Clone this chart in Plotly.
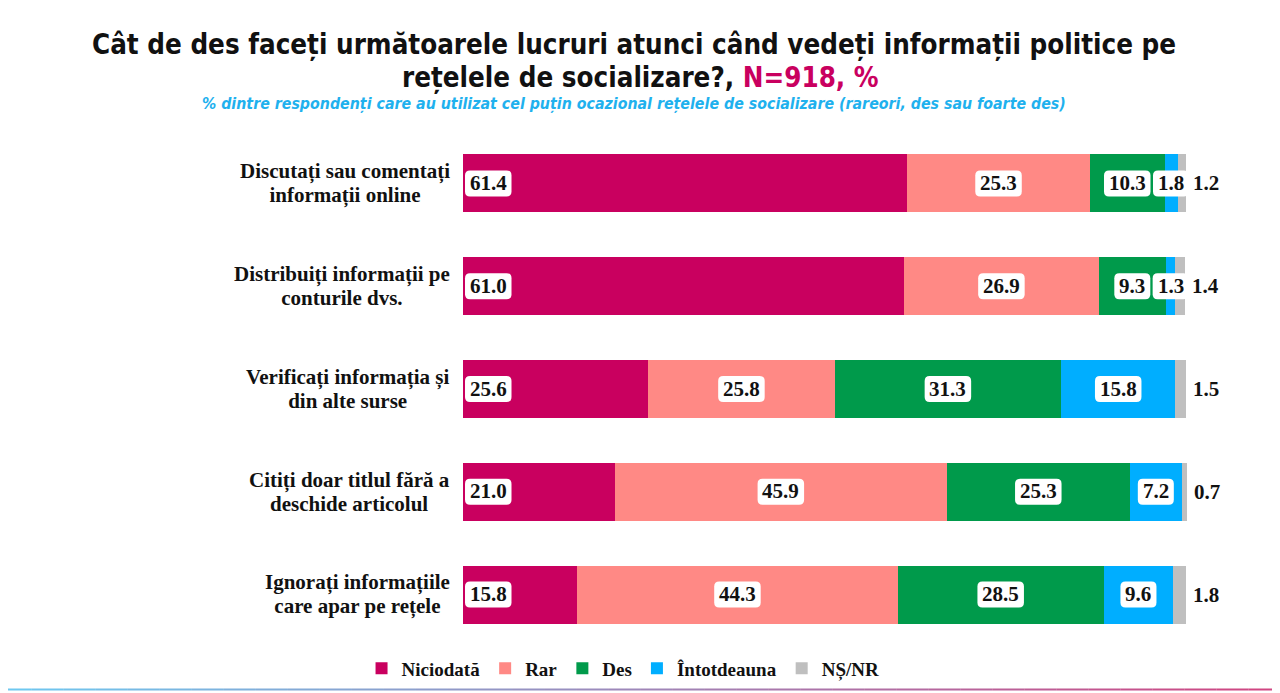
import plotly.graph_objects as go

categories = [
    "Discutați sau comentați<br>informații online",
    "Distribuiți informații pe<br>conturile dvs.",
    "Verificați informația și<br>din alte surse",
    "Citiți doar titlul fără a<br>deschide articolul",
    "Ignorați informațiile<br>care apar pe rețele",
]
series_names = ["Niciodată", "Rar", "Des", "Întotdeauna", "NȘ/NR"]
niciodata = [61.4, 61.0, 25.6, 21.0, 15.8]
rar = [25.3, 26.9, 25.8, 45.9, 44.3]
des = [10.3, 9.3, 31.3, 25.3, 28.5]
intotdeauna = [1.8, 1.3, 15.8, 7.2, 9.6]
nsnr = [1.2, 1.4, 1.5, 0.7, 1.8]
colors = ["#C9005F", "#FF8985", "#009A4B", "#00AEFF", "#BFBFBF"]

title_line1 = "Cât de des faceți următoarele lucruri atunci când vedeți informații politice pe"
title_line2 = "rețelele de socializare?, <span style='color:#C9005F'>N=918, %</span>"
subtitle = "% dintre respondenți care au utilizat cel puțin ocazional rețelele de socializare (rareori, des sau foarte des)"

series = [niciodata, rar, des, intotdeauna, nsnr]
ypos = list(range(len(categories)))

SERIF = "Liberation Serif, DejaVu Serif, serif"
COND = "Liberation Sans Narrow, DejaVu Sans Condensed, Roboto, sans-serif"

# page is offset by the 8px body margin; figure sized to fit the window
W, H = 1272, 685
XMAX = 100.25
PXU = 7.23
PW = PXU * XMAX
ML, MT, MB = 455, 123.5, 46.5
MR = W - ML - PW
PH = H - MT - MB

fig = go.Figure()
for name, vals, col in zip(series_names, series, colors):
    fig.add_trace(go.Bar(
        y=ypos, x=vals, name=name, orientation="h",
        marker=dict(color=col, line=dict(width=0)),
        width=0.563, hoverinfo="skip",
    ))

shapes = []
annotations = []

def box_path(x0, w, h=26, r=5):
    x1 = x0 + w
    y0, y1 = -h / 2, h / 2
    return (f"M {x0+r},{y0} L {x1-r},{y0} Q {x1},{y0} {x1},{y0+r} "
            f"L {x1},{y1-r} Q {x1},{y1} {x1-r},{y1} L {x0+r},{y1} "
            f"Q {x0},{y1} {x0},{y1-r} L {x0},{y0+r} Q {x0},{y0} {x0+r},{y0} Z")

VAL_FONT = dict(family=SERIF, size=21, color="#111111", weight="bold")
# annotation font size sets the line spacing (1.3em); the span sets glyph size
CAT_FONT = dict(family=SERIF, size=18.5, color="#111111", weight="bold")

for i in ypos:
    cum = 0.0
    for k, vals in enumerate(series):
        v = vals[i]
        txt = f"{v:.1f}"
        if k == len(series) - 1:
            annotations.append(dict(
                x=cum + v, y=i, xref="x", yref="y", text=txt, showarrow=False,
                xanchor="left", xshift=5, font=VAL_FONT))
        else:
            nd = sum(c.isdigit() for c in txt)
            w = 10.5 * nd + 4 + 11
            if k == 0:
                ax = cum
                x0 = 2
            else:
                ax = cum + v / 2
                x0 = -w / 2
            shapes.append(dict(
                type="path", xref="x", yref="y", xsizemode="pixel", ysizemode="pixel",
                xanchor=ax, yanchor=i, path=box_path(x0, w),
                fillcolor="white", line=dict(width=0), layer="above"))
            annotations.append(dict(
                x=ax, y=i, xref="x", yref="y", text=txt, showarrow=False,
                xanchor="center", xshift=x0 + w / 2, yshift=0.5, font=VAL_FONT))
        cum += v
    lab = "<br>".join(f"<span style='font-size:21px'>{ln}</span>"
                      for ln in categories[i].split("<br>"))
    annotations.append(dict(
        x=0, y=i, xref="x", yref="y", text=lab, showarrow=False,
        xanchor="right", xshift=-11, yanchor="middle", align="center",
        yshift=0, font=CAT_FONT))

TITLE_FONT = dict(family=COND, size=27.5, color="#111111", weight="bold")
annotations.append(dict(
    x=(626 - ML) / PW, y=1 + (MT - 35.5) / PH, xref="paper", yref="paper",
    text=title_line1, showarrow=False, xanchor="center", yanchor="middle",
    font=TITLE_FONT))
annotations.append(dict(
    x=(632 - ML) / PW, y=1 + (MT - 68.5) / PH, xref="paper", yref="paper",
    text=title_line2, showarrow=False, xanchor="center", yanchor="middle",
    font=TITLE_FONT))
annotations.append(dict(
    x=(626 - ML) / PW, y=1 + (MT - 95) / PH, xref="paper", yref="paper",
    text=subtitle, showarrow=False, xanchor="center", yanchor="middle",
    font=dict(family=COND, size=15.8, color="#1FB1EE", style="italic", weight="bold")))

# bottom decorative gradient line
n_seg = 40
c0 = (110, 200, 240)
c1 = (208, 70, 130)
for s in range(n_seg):
    t = s / (n_seg - 1)
    c = tuple(int(c0[j] + (c1[j] - c0[j]) * t) for j in range(3))
    shapes.append(dict(
        type="line", xref="paper", yref="paper",
        x0=(-ML - 8 + s * 1280 / n_seg) / PW,
        x1=(-ML - 8 + (s + 1) * 1280 / n_seg) / PW,
        y0=-43.5 / PH, y1=-43.5 / PH,
        line=dict(color=f"rgb{c}", width=2)))

fig.update_layout(
    barmode="stack",
    width=W, height=H,
    margin=dict(l=ML, r=MR, t=MT, b=MB, autoexpand=False),
    paper_bgcolor="white", plot_bgcolor="white",
    xaxis=dict(range=[0, XMAX], visible=False, fixedrange=True),
    yaxis=dict(range=[4.5, -0.5], visible=False, fixedrange=True),
    showlegend=True,
    legend=dict(orientation="h", x=(615 - ML) / PW, xanchor="center",
                y=-22.5 / PH, yanchor="middle", bgcolor="rgba(0,0,0,0)",
                font=dict(family=SERIF, size=19, color="#111111", weight="bold"),
                itemwidth=30, traceorder="normal"),
    shapes=shapes, annotations=annotations, bargap=0.437,
)

fig.write_html("out.html")
